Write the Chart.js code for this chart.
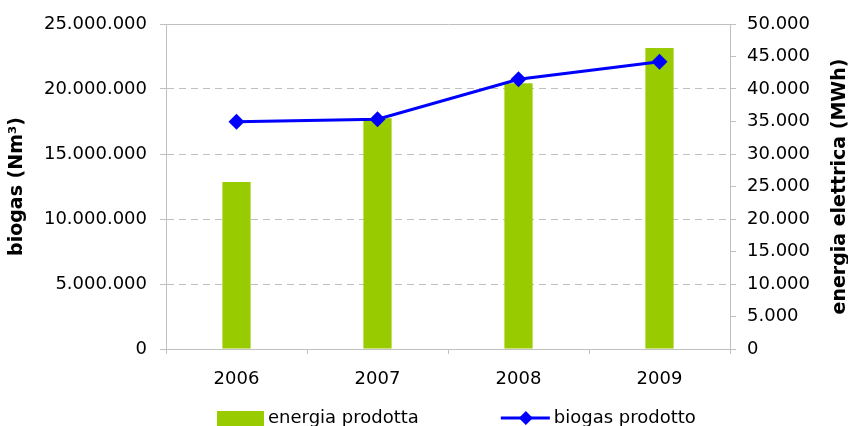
<!DOCTYPE html>
<html lang="it">
<head>
  <meta charset="UTF-8">
  <title>Biogas ed energia prodotta</title>
  <style>
    body {
      margin: 0;
      background-color: #fff;
    }
    .chart-box {
      width: 848px;
      height: 426px;
    }
  </style>
  <script src="https://cdn.jsdelivr.net/npm/chart.js"></script>
</head>
<body>
  <div class="chart-box">
    <canvas id="biogasChart"></canvas>
  </div>

  <script>
    // Data
    const years = ['2006', '2007', '2008', '2009'];
    const energiaProdotta = [25700, 35500, 40900, 46300];            // MWh (right axis)
    const biogasProdotto = [17480000, 17670000, 20750000, 22100000]; // Nm3 (left axis)

    const leftTitle = 'biogas (Nm³)';
    const rightTitle = 'energia elettrica (MWh)';

    const gridColor = '#c0c0c0';
    const tickFont = { family: 'DejaVu Sans', size: 18 };

    // 25000000 -> 25.000.000
    function formatDots(v) {
      return String(Math.round(v)).replace(/\B(?=(\d{3})+(?!\d))/g, '.');
    }

    // axis titles read bottom-to-top on both sides, plus the legend
    const decorations = {
      id: 'decorations',
      afterDraw(chart) {
        const ctx = chart.ctx;
        const area = chart.chartArea;
        const midY = (area.top + area.bottom) / 2;

        ctx.save();
        ctx.fillStyle = '#000';
        ctx.font = 'bold 19px "DejaVu Sans"';
        ctx.textAlign = 'center';
        ctx.textBaseline = 'middle';
        [[17, leftTitle], [840, rightTitle]].forEach(([x, text]) => {
          ctx.save();
          ctx.translate(x, midY);
          ctx.rotate(-Math.PI / 2);
          ctx.fillText(text, 0, 0);
          ctx.restore();
        });
        ctx.restore();

        // legend
        const bar = chart.data.datasets[1];
        const line = chart.data.datasets[0];
        ctx.save();
        ctx.font = '18px "DejaVu Sans"';
        ctx.textBaseline = 'alphabetic';
        ctx.fillStyle = '#000';
        let x = 217;
        const baseY = 423;
        ctx.fillStyle = bar.backgroundColor;
        ctx.fillRect(x, 411, 47, 15);
        ctx.fillStyle = '#000';
        ctx.fillText(bar.label, x + 51, baseY);
        x += 51 + ctx.measureText(bar.label).width + 82;

        ctx.strokeStyle = line.borderColor;
        ctx.lineWidth = 3;
        ctx.beginPath();
        ctx.moveTo(x, 418);
        ctx.lineTo(x + 49, 418);
        ctx.stroke();
        ctx.fillStyle = line.borderColor;
        ctx.beginPath();
        ctx.moveTo(x + 25, 411);
        ctx.lineTo(x + 32, 418);
        ctx.lineTo(x + 25, 425);
        ctx.lineTo(x + 18, 418);
        ctx.closePath();
        ctx.fill();
        ctx.fillStyle = '#000';
        ctx.fillText(line.label, x + 53, baseY);
        ctx.restore();
      }
    };

    const ctx = document.getElementById('biogasChart').getContext('2d');

    new Chart(ctx, {
      data: {
        labels: years,
        datasets: [
          {
            type: 'line',
            label: 'biogas prodotto',
            data: biogasProdotto,
            yAxisID: 'y',
            borderColor: '#0000ff',
            backgroundColor: '#0000ff',
            borderWidth: 3,
            pointStyle: 'rectRot',
            pointRadius: 8,
            pointBorderWidth: 0,
            tension: 0,
            order: 0
          },
          {
            type: 'bar',
            label: 'energia prodotta',
            data: energiaProdotta,
            yAxisID: 'y1',
            backgroundColor: '#99cc00',
            barPercentage: 0.2,
            categoryPercentage: 1,
            order: 1
          }
        ]
      },
      options: {
        responsive: true,
        maintainAspectRatio: false,
        animation: false,
        layout: { padding: { top: 24, left: 0, right: 0, bottom: 0 } },
        plugins: {
          legend: { display: false },
          tooltip: { enabled: false }
        },
        scales: {
          x: {
            offset: true,
            afterFit: (scale) => { scale.height = 77; },
            grid: {
              offset: true,
              drawOnChartArea: false,
              tickLength: 5,
              color: gridColor
            },
            border: { color: gridColor },
            ticks: { color: '#000', font: tickFont, padding: 15, maxRotation: 0 }
          },
          y: {
            position: 'left',
            min: 0,
            max: 25000000,
            afterFit: (scale) => { scale.width = 166; },
            grid: {
              color: gridColor,
              tickLength: 6
            },
            border: {
              color: gridColor,
              dash: (c) => (c.tick && c.tick.value === 25000000 ? [] : [7, 5])
            },
            ticks: {
              stepSize: 5000000,
              color: '#000',
              font: tickFont,
              padding: 13,
              callback: (v) => formatDots(v)
            }
          },
          y1: {
            position: 'right',
            min: 0,
            max: 50000,
            afterFit: (scale) => { scale.width = 118; },
            grid: {
              drawOnChartArea: false,
              color: gridColor,
              tickLength: 6
            },
            border: { color: gridColor },
            ticks: {
              stepSize: 5000,
              color: '#000',
              font: tickFont,
              padding: 11,
              callback: (v) => formatDots(v)
            }
          }
        }
      },
      plugins: [decorations]
    });
  </script>
</body>
</html>
